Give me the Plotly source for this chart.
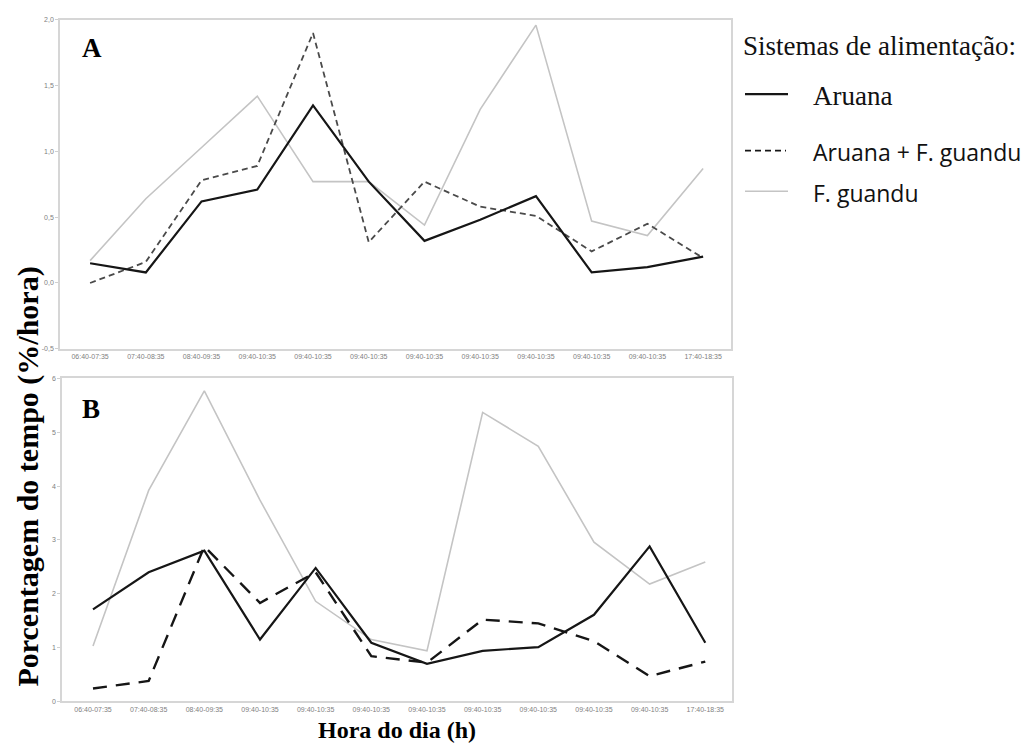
import plotly.graph_objects as go

W, H = 1035, 751

# ---------------- data ----------------
time_labels = ["06:40-07:35", "07:40-08:35", "08:40-09:35", "09:40-10:35", "09:40-10:35",
               "09:40-10:35", "09:40-10:35", "09:40-10:35", "09:40-10:35", "09:40-10:35",
               "09:40-10:35", "17:40-18:35"]

a_aruana = [0.15, 0.08, 0.62, 0.71, 1.35, 0.77, 0.32, 0.48, 0.66, 0.08, 0.12, 0.20]
a_mix = [0.00, 0.16, 0.78, 0.89, 1.90, 0.31, 0.77, 0.58, 0.51, 0.24, 0.45, 0.19]
a_guandu = [0.17, 0.64, 1.03, 1.42, 0.77, 0.77, 0.44, 1.32, 1.96, 0.47, 0.36, 0.87]

b_aruana = [1.71, 2.40, 2.80, 1.15, 2.48, 1.09, 0.70, 0.94, 1.01, 1.61, 2.88, 1.09]
b_mix = [0.24, 0.38, 2.88, 1.83, 2.40, 0.84, 0.72, 1.52, 1.45, 1.12, 0.47, 0.74]
b_guandu = [1.03, 3.92, 5.77, 3.74, 1.86, 1.15, 0.94, 5.37, 4.74, 2.96, 2.18, 2.59]

a_yticks = [-0.5, 0.0, 0.5, 1.0, 1.5, 2.0]
a_yticktext = ["-0,5", "0,0", "0,5", "1,0", "1,5", "2,0"]
b_yticks = [0, 1, 2, 3, 4, 5, 6]
b_yticktext = ["0", "1", "2", "3", "4", "5", "6"]

series_names = ["Aruana", "Aruana + F. guandu", "F. guandu"]

# ---------------- helpers ----------------
def px(x):
    return x / W

def py(y):
    return 1 - y / H

xs = list(range(len(time_labels)))

BLACK = "#161616"
DGRAY = "#4a4a4a"
LGRAY = "#c4c4c4"

fig = go.Figure()

# Panel A
fig.add_trace(go.Scatter(x=xs, y=a_guandu, mode="lines", line=dict(color=LGRAY, width=1.6),
                         xaxis="x", yaxis="y", name=series_names[2], showlegend=False))
fig.add_trace(go.Scatter(x=xs, y=a_mix, mode="lines", line=dict(color=DGRAY, width=1.8, dash="6px,4px"),
                         xaxis="x", yaxis="y", name=series_names[1], showlegend=False))
fig.add_trace(go.Scatter(x=xs, y=a_aruana, mode="lines", line=dict(color=BLACK, width=2.2),
                         xaxis="x", yaxis="y", name=series_names[0], showlegend=False))

# Panel B
fig.add_trace(go.Scatter(x=xs, y=b_guandu, mode="lines", line=dict(color=LGRAY, width=1.6),
                         xaxis="x2", yaxis="y2", name=series_names[2], showlegend=False))
fig.add_trace(go.Scatter(x=xs, y=b_mix, mode="lines", line=dict(color=BLACK, width=2.4, dash="14px,9px"),
                         xaxis="x2", yaxis="y2", name=series_names[1], showlegend=False))
fig.add_trace(go.Scatter(x=xs, y=b_aruana, mode="lines", line=dict(color=BLACK, width=2.2),
                         xaxis="x2", yaxis="y2", name=series_names[0], showlegend=False))

tickfont = dict(family="Liberation Sans, Arial", size=7, color="#808080")
axis_common = dict(showgrid=False, zeroline=False, showline=True, mirror=True,
                   linecolor="#d6d6d6", linewidth=1.5, tickfont=tickfont)

fig.update_layout(
    width=W, height=H,
    margin=dict(l=0, r=0, t=0, b=0),
    paper_bgcolor="white", plot_bgcolor="white",
    xaxis=dict(domain=[px(60), px(731)], range=[-0.54, 11.5], anchor="y", ticks="",
               tickvals=xs, ticktext=time_labels, **axis_common),
    yaxis=dict(domain=[py(348), py(16)], range=[-0.5, 2.0], anchor="x",
               ticks="outside", ticklen=3, tickcolor="#d0d0d0",
               tickvals=a_yticks, ticktext=a_yticktext, **axis_common),
    xaxis2=dict(domain=[px(62), px(732)], range=[-0.557, 11.48], anchor="y2", ticks="",
                tickvals=xs, ticktext=time_labels, **axis_common),
    yaxis2=dict(domain=[py(704), py(378)], range=[0, 6], anchor="x2",
                ticks="outside", ticklen=3, tickcolor="#d0d0d0",
                tickvals=b_yticks, ticktext=b_yticktext, **axis_common),
)

serif_bold = dict(family="Liberation Serif, Times New Roman", color="black")

annotations = [
    dict(text="<b>A</b>", x=px(92), y=py(44), font=dict(size=27, **serif_bold)),
    dict(text="<b>B</b>", x=px(91), y=py(409), font=dict(size=27, **serif_bold)),
    dict(text="<b>Porcentagem do tempo (%/hora)</b>", x=px(28), y=py(477), textangle=-90,
         font=dict(size=30, **serif_bold)),
    dict(text="<b>Hora do dia (h)</b>", x=px(397), y=py(733), font=dict(size=24, **serif_bold)),
    dict(text="Sistemas de alimentação:", x=px(741), y=py(42), xanchor="left",
         font=dict(family="Liberation Serif, Times New Roman", size=27, color="#111")),
    dict(text="Aruana", x=px(811), y=py(93), xanchor="left",
         font=dict(family="Liberation Serif, Times New Roman", size=27, color="#111")),
    dict(text="Aruana + F. guandu", x=px(811), y=py(149), xanchor="left",
         font=dict(family="Open Sans, Liberation Sans", size=23, color="#111")),
    dict(text="F. guandu", x=px(811), y=py(191), xanchor="left",
         font=dict(family="Open Sans, Liberation Sans", size=23, color="#111")),
]
for a in annotations:
    a.setdefault("xanchor", "center")
    a.update(xref="paper", yref="paper", yanchor="middle", showarrow=False)
fig.update_layout(annotations=annotations)

shapes = [
    dict(type="line", x0=px(745), x1=px(788), y0=py(91), y1=py(91),
         line=dict(color=BLACK, width=2.2)),
    dict(type="line", x0=px(745), x1=px(786), y0=py(148), y1=py(148),
         line=dict(color=BLACK, width=1.8, dash="6px,4px")),
    dict(type="line", x0=px(745), x1=px(788), y0=py(189), y1=py(189),
         line=dict(color=LGRAY, width=1.6)),
]
for s in shapes:
    s.update(xref="paper", yref="paper")
fig.update_layout(shapes=shapes)

fig.write_html("out.html")
